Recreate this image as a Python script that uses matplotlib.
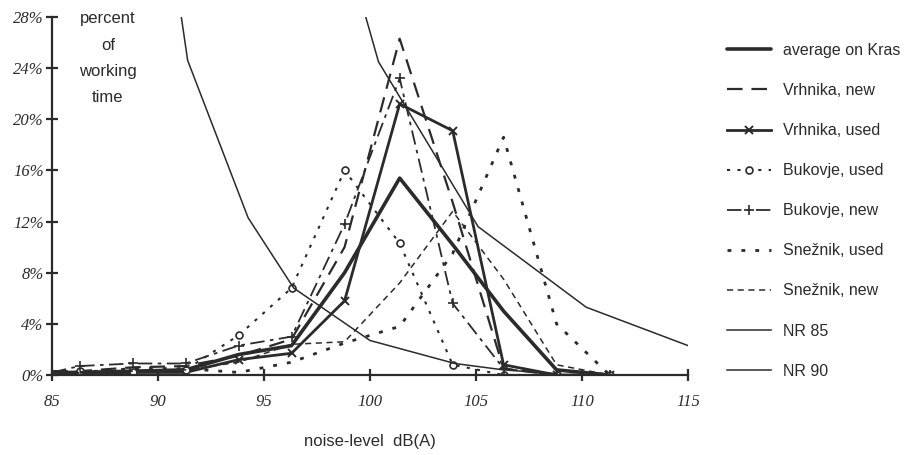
import matplotlib
matplotlib.use("Agg")
import matplotlib.pyplot as plt

# ---- data ----
noise_db = [85, 86.3, 88.8, 91.3, 93.8, 96.3, 98.8, 101.4, 103.9, 106.3, 108.8, 111.3]

average_kras = [0.2, 0.2, 0.3, 0.4, 1.6, 2.3, 8.0, 15.4, 10.2, 5.0, 0.4, 0.0]
vrhnika_new  = [0.3, 0.3, 0.6, 0.7, 1.5, 2.8, 10.0, 26.3, 13.5, 0.5, 0.0, 0.0]
vrhnika_used = [0.0, 0.0, 0.2, 0.2, 1.2, 1.7, 5.8, 21.2, 19.1, 0.8, 0.0, 0.0]
bukovje_used = [0.0, 0.3, 0.2, 0.4, 3.1, 6.8, 16.0, 10.3, 0.8, 0.0, 0.0, 0.0]
bukovje_new  = [0.2, 0.7, 0.9, 0.9, 2.3, 3.0, 11.8, 23.2, 5.6, 0.5, 0.0, 0.0]
sneznik_used = [0.0, 0.2, 0.5, 0.5, 0.2, 1.0, 2.5, 3.8, 9.5, 18.6, 4.0, 0.0]
sneznik_new  = [0.1, 0.2, 0.3, 0.4, 1.0, 2.4, 2.6, 7.2, 12.8, 7.5, 0.8, 0.0]

nr85_x = [91.1, 91.4, 94.25, 96.4, 100.0, 104.0, 106.3, 108.8]
nr85_y = [28.0, 24.6, 12.3, 6.8, 2.7, 0.9, 0.4, 0.1]
nr90_x = [99.8, 100.4, 105.1, 110.2, 115.0]
nr90_y = [28.0, 24.5, 11.6, 5.3, 2.3]

x_ticks = [85, 90, 95, 100, 105, 110, 115]
y_ticks = [0, 4, 8, 12, 16, 20, 24, 28]
y_ticklabels = ["0%", "4%", "8%", "12%", "16%", "20%", "24%", "28%"]

INK = "#2b2b2b"
SANS = "Liberation Sans"
SERIF = "Liberation Serif"

fig = plt.figure(figsize=(9.09, 4.55), dpi=100)
ax = fig.add_axes([52 / 909, 80 / 455, 636 / 909, 358 / 455])

ax.plot(noise_db, average_kras, color=INK, lw=2.6, solid_capstyle="round",
        label="average on Kras")
ax.plot(noise_db, vrhnika_new, color=INK, lw=1.6, linestyle=(0, (7, 4)),
        label="Vrhnika, new")
ax.plot(noise_db, vrhnika_used, color=INK, lw=2.0, marker="x", ms=6, mew=1.4,
        label="Vrhnika, used")
ax.plot(noise_db, bukovje_used, color=INK, lw=1.5, linestyle=(0, (1.5, 3.5)),
        marker="o", ms=5, mfc="white", mew=1.2, label="Bukovje, used")
ax.plot(noise_db, bukovje_new, color=INK, lw=1.3, linestyle=(0, (8, 3, 2, 3)),
        marker="+", ms=7, mew=1.2, label="Bukovje, new")
ax.plot(noise_db, sneznik_used, color=INK, lw=2.0, linestyle=(0, (1.4, 3.6)),
        label="Snežnik, used")
ax.plot(noise_db, sneznik_new, color=INK, lw=1.1, linestyle=(0, (4, 3)),
        label="Snežnik, new")
ax.plot(nr85_x, nr85_y, color=INK, lw=1.1, label="NR 85")
ax.plot(nr90_x, nr90_y, color=INK, lw=1.1, label="NR 90")

ax.set_xlim(85, 115)
ax.set_ylim(0, 28)
for s in ("top", "right"):
    ax.spines[s].set_visible(False)
for s in ("left", "bottom"):
    ax.spines[s].set_color(INK)
    ax.spines[s].set_linewidth(1.6)

ax.set_xticks(x_ticks)
ax.set_xticklabels([str(v) for v in x_ticks])
ax.set_yticks(y_ticks)
ax.set_yticklabels(y_ticklabels)
ax.tick_params(axis="both", direction="inout", length=8, width=1.6, color=INK,
               labelcolor=INK, labelsize=12)
ax.tick_params(axis="x", pad=10)
ax.tick_params(axis="y", pad=2)
for lab in ax.get_xticklabels() + ax.get_yticklabels():
    lab.set_fontfamily(SERIF)
    lab.set_fontstyle("italic")

ax.set_xlabel("noise-level  dB(A)", fontfamily=SANS, fontsize=12, color=INK,
              labelpad=17)
ax.text(0.088, 1.016, "percent\nof\nworking\ntime", transform=ax.transAxes,
        ha="center", va="top", fontfamily=SANS, fontsize=12, color=INK,
        linespacing=1.95)

leg = ax.legend(loc="upper left", bbox_to_anchor=(727 / 909, 1 - 43 / 455),
                bbox_transform=fig.transFigure, frameon=False, borderpad=0,
                borderaxespad=0, handlelength=2.75, handletextpad=0.75,
                labelspacing=1.57, prop={"family": SANS, "size": 11.5})
for t in leg.get_texts():
    t.set_color(INK)

fig.savefig("out.png", dpi=100, facecolor="white")
